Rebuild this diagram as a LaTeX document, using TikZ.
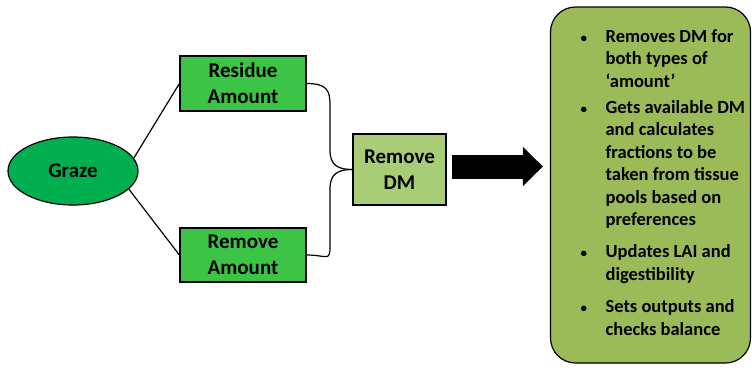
\documentclass[tikz,border=0pt]{standalone}
\usepackage{fontspec}
\setmainfont{Carlito}
\usepackage{tikz}
\usetikzlibrary{shapes}
\usetikzlibrary{arrows.meta}
\usetikzlibrary{positioning}
\definecolor{grazegreen}{RGB}{0,176,80}
\definecolor{boxgreen}{RGB}{60,196,70}
\definecolor{dmgreen}{RGB}{169,205,118}
\definecolor{infogreen}{RGB}{155,187,89}
\newcommand{\smallbullet}{{\fontsize{13}{13}\selectfont\textbullet}}

\begin{document}
\begin{tikzpicture}[x=1pt, y=-1pt, line width=1.2pt,
				txt/.style = {font=\bfseries\fontsize{21}{26}\selectfont,
					align=center, inner sep=0pt},
				stepbox/.style = {txt, draw, rectangle},
				brace/.style = {draw, line width=1.2pt},
				bigarrow/.style = {line width=24pt,
					-{Triangle[length=20pt, width=38pt]}}]
				
				\useasboundingbox (0,0) rectangle (752,367);
				
				% Graze
				\node[txt, draw, ellipse, fill=grazegreen,
					minimum width=130pt, minimum height=68pt] (graze) at (73,171) {Graze};
				
				% Amount boxes
				\node[stepbox, fill=boxgreen, minimum width=126pt,
					minimum height=55pt] (residue) at (243,83.5) {Residue\\Amount};
				\node[stepbox, fill=boxgreen, minimum width=126pt,
					minimum height=54pt] (removeamt) at (243,255) {Remove\\Amount};
				
				% Remove DM
				\node[stepbox, fill=dmgreen, minimum width=93pt,
					minimum height=71pt] (removedm) at (399.5,169.5) {Remove\\DM};
				
				% Info box
				\node[draw, rectangle, rounded corners=25pt, fill=infogreen,
					minimum width=200pt, minimum height=356pt] (info) at (650.5,185) {};
				\node[anchor=north west, inner sep=0pt,
					font=\bfseries\fontsize{18.5}{22.5}\selectfont] (infotext) at (580,26) {%
					\begin{tabular}{@{}p{25pt}@{}l@{}}
						\smallbullet & Removes DM for\\
						& both types of\\
						& ‘amount’\\[3.5pt]
						\smallbullet & Gets available DM\\
						& and calculates\\
						& fractions to be\\
						& taken from tissue\\
						& pools based on\\
						& preferences\\[9.5pt]
						\smallbullet & Updates LAI and\\
						& digestibility\\[10pt]
						\smallbullet & Sets outputs and\\
						& checks balance
				\end{tabular}};
				
				% Lines from Graze
				\draw (graze.12) -- (residue.west);
				\draw (graze.-18) -- (removeamt.west);
				
				% Brace
				\draw[brace] (residue.east) .. controls +(20,0) and +(0,-15) .. (330,105)
					-- (330,150) .. controls +(0,15) and +(-15,0) .. (removedm.west);
				\draw[brace] (removeamt.east) .. controls +(20,0) and +(0,15) .. (330,247)
					-- (330,189) .. controls +(0,-15) and +(-15,0) .. (removedm.west);
				
				% Arrow
				\draw[bigarrow, shorten <=5pt, shorten >=7pt]
					([yshift=3pt]removedm.east) -- ([yshift=3pt]removedm.east -| info.west);
				
		\end{tikzpicture}
\end{document}
